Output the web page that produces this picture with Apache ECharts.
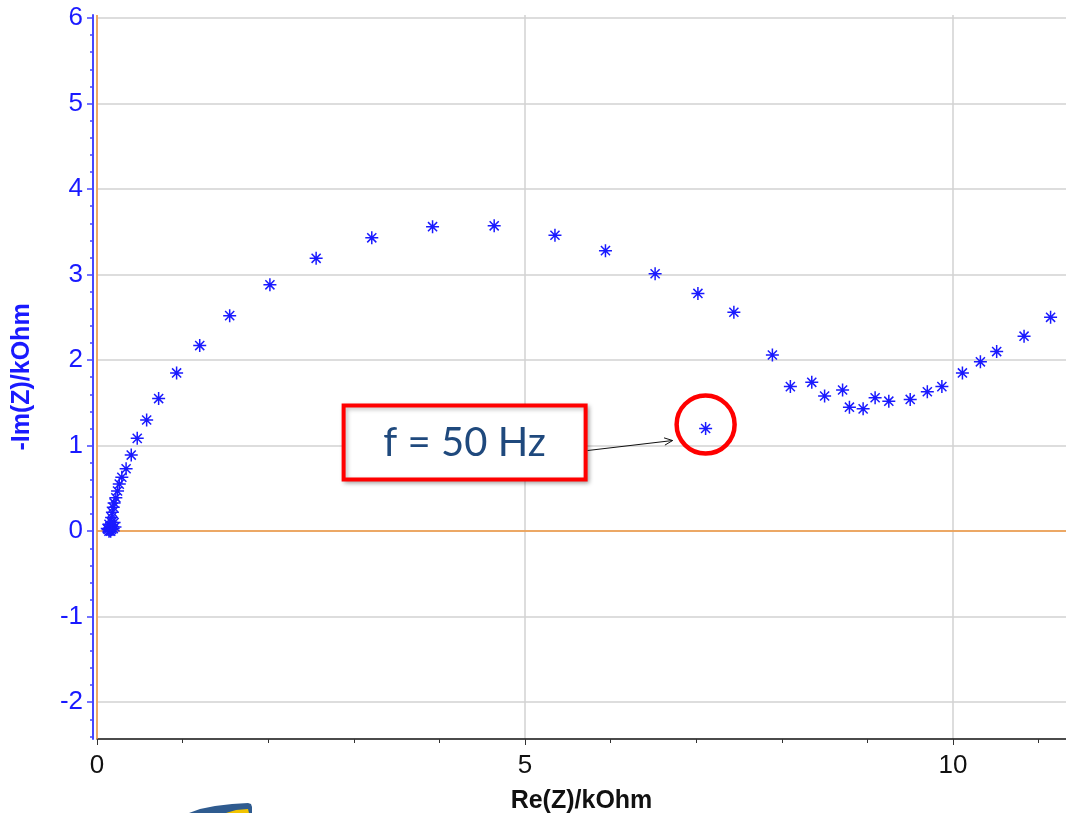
<!DOCTYPE html>
<html>
<head>
<meta charset="utf-8">
<script src="https://cdn.jsdelivr.net/npm/echarts@6/dist/echarts.min.js"></script>
<style>
  html, body { margin: 0; padding: 0; background: #ffffff; }
  #chart { width: 1066px; height: 813px; }
</style>
</head>
<body>
<div id="chart"></div>
<script>
// Nyquist plot: real part vs. negative imaginary part of impedance (kOhm)
const reZ = [
  0.14, 0.15, 0.16, 0.13, 0.17, 0.12, 0.19, 0.21, 0.15, 0.16, 0.14, 0.20, 0.17,
  0.17, 0.18, 0.19, 0.20, 0.22, 0.24, 0.26, 0.29, 0.34, 0.40, 0.47, 0.58, 0.72,
  0.93, 1.20, 1.55, 2.02, 2.56, 3.21, 3.92, 4.64, 5.35, 5.94, 6.52, 7.02, 7.44,
  7.11,
  7.89, 8.10, 8.35, 8.50, 8.71, 8.79, 8.95, 9.09, 9.25, 9.50, 9.70, 9.87, 10.11,
  10.32, 10.51, 10.83, 11.14
];
const imZ = [
  0.00, 0.01, 0.00, 0.02, 0.02, 0.03, 0.03, 0.05, 0.04, 0.06, 0.08, 0.10, 0.10,
  0.16, 0.22, 0.28, 0.33, 0.39, 0.47, 0.55, 0.63, 0.73, 0.89, 1.085, 1.30, 1.55,
  1.85, 2.17, 2.52, 2.88, 3.19, 3.43, 3.56, 3.57, 3.46, 3.28, 3.01, 2.78, 2.56,
  1.20,
  2.06, 1.69, 1.74, 1.58, 1.65, 1.45, 1.43, 1.56, 1.52, 1.54, 1.63, 1.69, 1.85,
  1.98, 2.10, 2.28, 2.50
];
// point highlighted by the callout
const markedIndex = 39;
const markedText = 'f = 50 Hz';

// axis ticks and labels
const xLabelValues = [0, 5, 10];
const xMinorTicks = [1, 2, 3, 4, 6, 7, 8, 9, 11];
const yLabelValues = [-2, -1, 0, 1, 2, 3, 4, 5, 6];
const yRange = [-2.43, 6.035];
const xRange = [0, 11.32];

const yMinorTicks = [];
for (let k = -12; k <= 30; k++) {
  if (k % 5 !== 0) yMinorTicks.push(+(k * 0.2).toFixed(1));
}

const points = reZ.map((x, i) => [x, imZ[i]]);

const BLUE = '#1a1aff';
const AXIS_BLUE = '#4646ff';
const ORANGE = '#f0963c';
const GRID = '#d2d2d2';
const asterisk = 'path://M0,-5L0,5M-5,0L5,0M-3.5,-3.5L3.5,3.5M-3.5,3.5L3.5,-3.5';
const LABEL_FONT = 'Liberation Sans';

const chart = echarts.init(document.getElementById('chart'), null, { renderer: 'canvas' });

const option = {
  animation: false,
  backgroundColor: '#ffffff',
  grid: { left: 97, right: 0, top: 15, bottom: 74, containLabel: false, outerBoundsMode: 'none' },
  xAxis: [
    {
      type: 'value',
      position: 'bottom',
      min: xRange[0],
      max: xRange[1],
      interval: 5,
      name: 'Re(Z)/kOhm',
      nameLocation: 'middle',
      nameGap: 50,
      nameTextStyle: { fontFamily: LABEL_FONT, fontWeight: 'bold', fontSize: 25, color: '#111111' },
      axisLine: { show: true, onZero: false, lineStyle: { color: '#111111', width: 1.5 } },
      axisTick: { show: true, customValues: xLabelValues, length: 6, lineStyle: { color: '#333333', width: 1 } },
      axisLabel: { customValues: xLabelValues, fontFamily: LABEL_FONT, fontSize: 26, color: '#111111', margin: 14 },
      splitLine: { show: true, lineStyle: { color: GRID, width: 1.5 } }
    },
    {
      type: 'value',
      position: 'bottom',
      min: xRange[0],
      max: xRange[1],
      axisLine: { show: false, onZero: false },
      axisTick: { show: true, customValues: xMinorTicks, length: 4, lineStyle: { color: '#333333', width: 1 } },
      axisLabel: { show: false },
      splitLine: { show: false }
    }
  ],
  yAxis: [
    {
      type: 'value',
      position: 'left',
      min: yRange[0],
      max: yRange[1],
      splitNumber: 8,
      offset: 4,
      name: '-Im(Z)/kOhm',
      nameLocation: 'middle',
      nameGap: 58,
      nameTextStyle: { fontFamily: LABEL_FONT, fontWeight: 'bold', fontSize: 25, color: BLUE },
      axisLine: { show: true, onZero: false, lineStyle: { color: AXIS_BLUE, width: 2 } },
      axisTick: { show: true, customValues: yLabelValues, length: 6, lineStyle: { color: AXIS_BLUE, width: 1.5 } },
      axisLabel: { customValues: yLabelValues, fontFamily: LABEL_FONT, fontSize: 26, color: BLUE, margin: 10 },
      splitLine: { show: true, lineStyle: { color: GRID, width: 1.5 } }
    },
    {
      type: 'value',
      position: 'left',
      min: yRange[0],
      max: yRange[1],
      offset: 4,
      axisLine: { show: false, onZero: false },
      axisTick: { show: true, customValues: yMinorTicks, length: 3, lineStyle: { color: AXIS_BLUE, width: 1.5 } },
      axisLabel: { show: false },
      splitLine: { show: false }
    }
  ],
  series: [
    {
      type: 'scatter',
      xAxisIndex: 0,
      yAxisIndex: 0,
      data: points,
      symbol: asterisk,
      symbolSize: 13,
      itemStyle: { color: BLUE, borderColor: BLUE, borderWidth: 1.5, opacity: 1 },
      silent: true,
      markLine: {
        silent: true,
        symbol: 'none',
        label: { show: false },
        lineStyle: { color: ORANGE, width: 1.5, type: 'solid' },
        data: [
          { yAxis: yRange[1], lineStyle: { color: GRID, width: 1.5 } },
          { xAxis: 0 },
          { yAxis: 0 }
        ]
      },
      z: 5
    }
  ]
};

chart.setOption(option);

// callout around the highlighted point, placed from its data position
const p = chart.convertToPixel({ xAxisIndex: 0, yAxisIndex: 0 }, points[markedIndex]);
const boxW = 242, boxH = 74;
const boxX = p[0] - 362, boxY = p[1] - 23;
const a0 = [boxX + boxW + 2, boxY + 45];
const a1 = [p[0] - 33, p[1] + 12];
const ang = Math.atan2(a1[1] - a0[1], a1[0] - a0[0]);
const headLen = 9, spread = 0.42;
const h1 = [a1[0] - headLen * Math.cos(ang - spread), a1[1] - headLen * Math.sin(ang - spread)];
const h2 = [a1[0] - headLen * Math.cos(ang + spread), a1[1] - headLen * Math.sin(ang + spread)];

chart.setOption({
  graphic: [
    {
      type: 'circle',
      shape: { cx: p[0], cy: p[1] - 4, r: 29 },
      style: { fill: 'none', stroke: '#ff0000', lineWidth: 4.5 },
      z: 100, silent: true
    },
    {
      type: 'rect',
      shape: { x: boxX, y: boxY, width: boxW, height: boxH },
      style: {
        fill: '#ffffff', stroke: '#ff0000', lineWidth: 4,
        shadowBlur: 4, shadowOffsetX: 2, shadowOffsetY: 2, shadowColor: 'rgba(0,0,0,0.25)'
      },
      z: 100, silent: true
    },
    {
      type: 'text',
      x: boxX + boxW / 2,
      y: boxY + boxH / 2 + 1,
      style: {
        text: markedText, fill: '#1f497d',
        font: '40px Lato, "Open Sans", sans-serif',
        align: 'center', verticalAlign: 'middle'
      },
      z: 101, silent: true
    },
    {
      type: 'polyline',
      shape: { points: [a0, a1] },
      style: { stroke: '#111111', lineWidth: 1, fill: 'none' },
      z: 100, silent: true
    },
    {
      type: 'polyline',
      shape: { points: [h1, a1, h2] },
      style: { stroke: '#111111', lineWidth: 1, fill: 'none' },
      z: 100, silent: true
    },
    {
      type: 'polygon',
      shape: { points: [[189, 813], [200, 809], [215, 806], [232, 804], [248, 803], [251, 804], [252, 807], [252, 813]] },
      style: { fill: '#2f5b8f' },
      z: 100, silent: true
    },
    {
      type: 'polygon',
      shape: { points: [[226, 813], [236, 810], [248, 809], [249, 813]] },
      style: { fill: '#f2c400' },
      z: 101, silent: true
    }
  ]
});
</script>
</body>
</html>
